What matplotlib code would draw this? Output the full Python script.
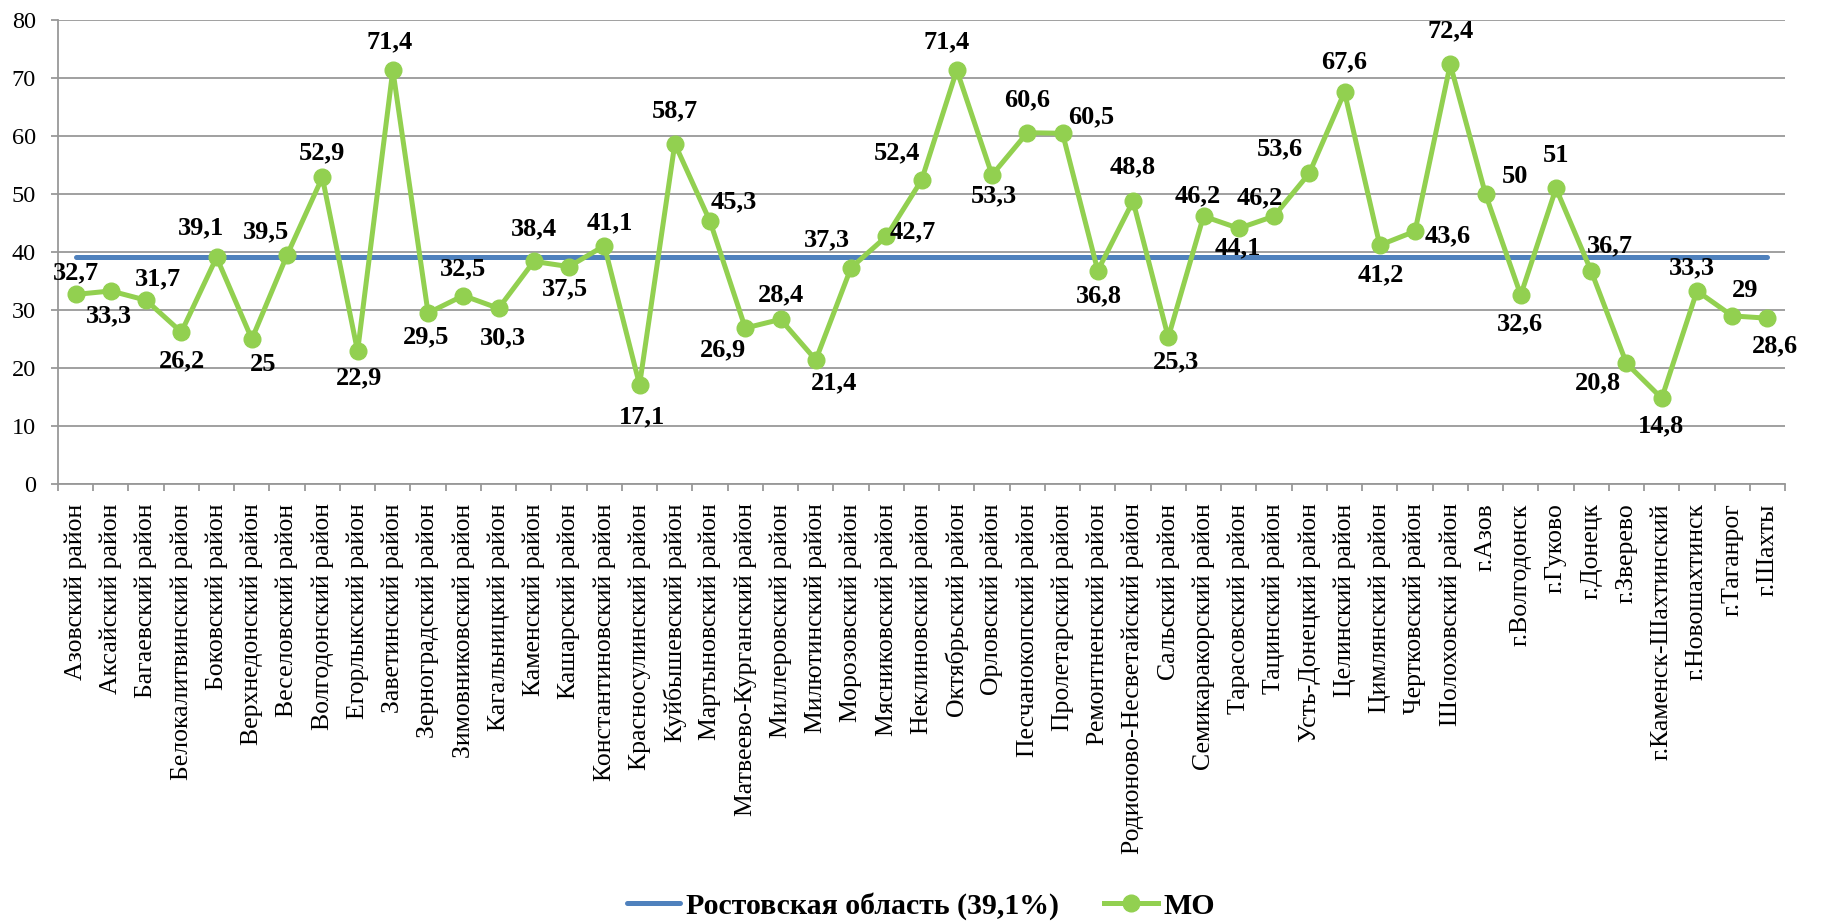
import matplotlib
matplotlib.use("Agg")
import matplotlib.pyplot as plt
import numpy as np

categories = [
    "Азовский район", "Аксайский район", "Багаевский район", "Белокалитвинский район",
    "Боковский район", "Верхнедонский район", "Веселовский район", "Волгодонский район",
    "Егорлыкский район", "Заветинский район", "Зерноградский район", "Зимовниковский район",
    "Кагальницкий район", "Каменский район", "Кашарский район", "Константиновский район",
    "Красносулинский район", "Куйбышевский район", "Мартыновский район",
    "Матвеево-Курганский район", "Миллеровский район", "Милютинский район",
    "Морозовский район", "Мясниковский район", "Неклиновский район", "Октябрьский район",
    "Орловский район", "Песчанокопский район", "Пролетарский район", "Ремонтненский район",
    "Родионово-Несветайский район", "Сальский район", "Семикаракорский район",
    "Тарасовский район", "Тацинский район", "Усть-Донецкий район", "Целинский район",
    "Цимлянский район", "Чертковский район", "Шолоховский район", "г.Азов", "г.Волгодонск",
    "г.Гуково", "г.Донецк", "г.Зверево", "г.Каменск-Шахтинский", "г.Новошахтинск",
    "г.Таганрог", "г.Шахты",
]
mo_values = [
    32.7, 33.3, 31.7, 26.2, 39.1, 25, 39.5, 52.9, 22.9, 71.4,
    29.5, 32.5, 30.3, 38.4, 37.5, 41.1, 17.1, 58.7, 45.3, 26.9,
    28.4, 21.4, 37.3, 42.7, 52.4, 71.4, 53.3, 60.6, 60.5, 36.8,
    48.8, 25.3, 46.2, 44.1, 46.2, 53.6, 67.6, 41.2, 43.6, 72.4,
    50, 32.6, 51, 36.7, 20.8, 14.8, 33.3, 29, 28.6,
]
region_value = 39.1
series_names = ["Ростовская область (39,1%)", "МО"]
y_ticks = [0, 10, 20, 30, 40, 50, 60, 70, 80]

# label offsets in pixels (dx, dy downward) -- styling only
label_offsets = [
    (0, -22), (-2, 25), (12, -21), (1, 29), (-16, -30), (11, 25), (-21, -23), (0, -25),
    (1, 27), (-3, -28), (-2, 24), (0, -27), (4, 29), (0, -33), (-4, 22), (5, -23),
    (2, 32), (0, -33), (24, -20), (-22, 22), (0, -25), (18, 23), (-24, -28), (26, -5),
    (-25, -27), (-10, -28), (2, 21), (0, -33), (29, -16), (1, 25), (0, -34), (8, 24),
    (-6, -20), (-1, 19), (-14, -18), (-29, -24), (0, -30), (1, 30), (33, 5), (0, -34),
    (29, -18), (-1, 29), (0, -33), (19, -25), (-29, 19), (-1, 28), (-5, -23), (13, -25),
    (7, 28),
]

serif = ["Liberation Serif", "DejaVu Serif"]
plt.rcParams["font.family"] = serif

fig = plt.figure(figsize=(18.29, 9.21), dpi=100)
ax = fig.add_axes([0.0317, 0.4745, 0.9443, 0.5035])

x = np.arange(len(categories))
blue = "#4F81BD"
green = "#92D050"
grid_c = "#989898"

ax.plot(x, [region_value] * len(x), color=blue, lw=3.6, solid_capstyle="round",
        label=series_names[0], zorder=3)
ax.plot(x, mo_values, color=green, lw=3.6, marker="o", markersize=12,
        markerfacecolor=green, markeredgecolor=green, label=series_names[1], zorder=4)

for xi, v, (dx, dy) in zip(x, mo_values, label_offsets):
    ax.annotate(f"{v:g}".replace(".", ","), (xi, v), xytext=(dx, -dy),
                textcoords="offset pixels", ha="center", va="center",
                fontsize=19, fontweight="bold", color="black", zorder=5)

ax.set_xlim(-0.5, len(categories) - 0.5)
ax.set_ylim(0, 80)
ax.set_yticks(y_ticks)
ax.yaxis.grid(True, color=grid_c, lw=1.3)
ax.set_axisbelow(True)

ax.set_xticks(x)
ax.set_xticklabels(categories, rotation=90, fontsize=18.5)
ax.set_xticks(np.arange(-0.5, len(categories), 1.0), minor=True)
ax.tick_params(axis="x", which="major", length=0, pad=14)
ax.tick_params(axis="x", which="minor", length=5, color=grid_c, width=1.3)
ax.tick_params(axis="y", length=5, color=grid_c, width=1.3, labelsize=17.5, pad=11)

for s in ["top", "right"]:
    ax.spines[s].set_visible(False)
for s in ["left", "bottom"]:
    ax.spines[s].set_color(grid_c)
    ax.spines[s].set_linewidth(1.3)

leg = fig.legend(loc="center", bbox_to_anchor=(0.5036, 0.016), ncol=2, frameon=False,
                 prop={"family": serif, "weight": "bold", "size": 21.5},
                 handlelength=1.8, columnspacing=1.5, handletextpad=0.2,
                 borderpad=0.1)

fig.savefig("out.png", dpi=100)
